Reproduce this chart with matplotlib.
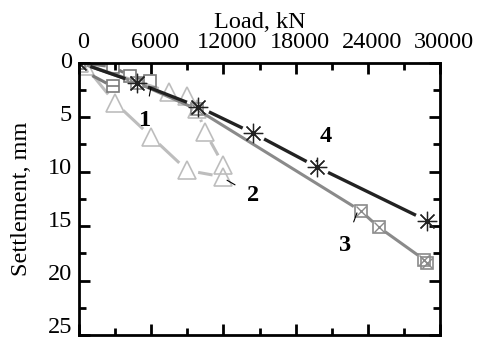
import matplotlib
matplotlib.use("Agg")
import matplotlib.pyplot as plt
import numpy as np
from matplotlib.transforms import ScaledTranslation

plt.rcParams['font.family'] = ['Liberation Serif', 'DejaVu Serif']

# Series data (Load kN, Settlement mm)
s1_x = [0, 2800, 4200, 5900]
s1_y = [0, 0.4, 1.2, 1.7]
s1u_x = [600, 2800]
s1u_y = [0.9, 2.2]

s2a_x = [0, 500, 3000, 6000, 9000, 12000]
s2a_y = [0, 0.3, 3.7, 6.8, 9.9, 10.5]
s2b_x = [0, 7500, 9000, 9800, 10500, 12000]
s2b_y = [0, 2.7, 3.1, 4.3, 6.4, 9.4]

s3_x = [0, 4800, 9800, 23400, 24900, 28700, 28900]
s3_y = [0, 1.85, 4.3, 13.6, 15.1, 18.1, 18.4]

s4_x = [0, 4800, 9900, 14500, 19800, 28900]
s4_y = [0, 1.85, 4.05, 6.5, 9.6, 14.5]

x_ticks = [0, 6000, 12000, 18000, 24000, 30000]
y_ticks = [0, 5, 10, 15, 20, 25]

fig = plt.figure(figsize=(4.79, 3.37), dpi=100)
ax = fig.add_axes([79/479, 2/337, 361/479, 272.5/337])
ax.set_xlim(0, 30000)
ax.set_ylim(25, 0)

c1 = '#7a7a7a'
c2 = '#bdbdbd'
c3 = '#8a8a8a'
c4 = '#222222'


def gapped(xs, ys, gap, **kw):
    """Draw segments between consecutive points, leaving a gap (pixels) at each marker."""
    pts = ax.transData.transform(np.column_stack([xs, ys]))
    inv = ax.transData.inverted()
    for (p, q) in zip(pts[:-1], pts[1:]):
        d = q - p
        L = np.hypot(*d)
        if L <= 2 * gap:
            continue
        u = d / L
        a = inv.transform(p + u * gap)
        b = inv.transform(q - u * gap)
        ax.plot([a[0], b[0]], [a[1], b[1]], solid_capstyle='butt', **kw)


# series 2 (light gray triangles)
for xs, ys in ((s2a_x, s2a_y), (s2b_x, s2b_y)):
    gapped(xs, ys, 11, color=c2, lw=2.2)
    ax.plot(xs, ys, ls='none', marker='^', ms=13, mfc='none', mec=c2, mew=1.2)

# series 1 (gray squares)
gapped(s1_x, s1_y, 7, color=c1, lw=2.2)
ax.plot(s1_x, s1_y, ls='none', marker='s', ms=9, mfc='none', mec=c1, mew=1.2)
gapped(s1u_x, s1u_y, 7, color=c1, lw=2.2)
ax.plot(s1u_x[1:], s1u_y[1:], ls='none', marker='s', ms=9, mfc='none', mec=c1, mew=1.2)
ax.plot(s1u_x[1:], s1u_y[1:], ls='none', marker='_', ms=9, mec=c1, mew=1.2)

# series 3 (gray squares with X)
gapped(s3_x, s3_y, 8, color=c3, lw=2.2)
ax.plot(s3_x, s3_y, ls='none', marker='s', ms=9, mfc='none', mec=c3, mew=1.2)
ax.plot(s3_x, s3_y, ls='none', marker='x', ms=7, mec=c3, mew=1.0)

# series 4 (dark asterisks)
gapped(s4_x, s4_y, 12, color=c4, lw=2.4)
ax.plot(s4_x, s4_y, ls='none', marker=(8, 2, 0), ms=14, mec=c4, mew=0.9)

ax.xaxis.tick_top()
ax.xaxis.set_label_position('top')
ax.set_xticks(x_ticks)
ax.set_xticks([3000, 9000, 15000, 21000, 27000], minor=True)
ax.set_yticks(y_ticks)
ax.set_yticks([2.5, 7.5, 12.5, 17.5, 22.5], minor=True)
ax.tick_params(which='both', direction='in', top=True, bottom=True,
               left=True, right=True, labeltop=True, labelbottom=False,
               labelsize=17.5, width=2)
ax.tick_params(axis='x', pad=7)
ax.tick_params(axis='y', pad=5)
ax.tick_params(which='major', length=8)
ax.tick_params(which='minor', length=5)
for sp in ax.spines.values():
    sp.set_linewidth(2)

for v, lbl in zip(y_ticks, ax.get_yticklabels()):
    dy = (3 + 7 * v / 25) / 100
    lbl.set_transform(lbl.get_transform() + ScaledTranslation(0, dy, fig.dpi_scale_trans))
for lbl in ax.get_xticklabels():
    lbl.set_transform(lbl.get_transform() + ScaledTranslation(0.04, 0, fig.dpi_scale_trans))

ax.set_xlabel('Load, kN', fontsize=17.5, labelpad=3)
ax.set_ylabel('Settlement, mm', fontsize=17.5)
ax.yaxis.set_label_coords(-0.13, 0.5)


def lab(t, xy, xytext):
    ax.annotate(t, xy=xy, xytext=xytext, fontsize=17.5, fontweight='bold',
                ha='center', va='center',
                arrowprops=dict(arrowstyle='-', color='black', lw=0.8,
                                shrinkA=8, shrinkB=0))


lab('1', (5980, 2.3), (5450, 5.3))
lab('2', (12300, 10.8), (14500, 12.2))
lab('3', (23100, 13.8), (22100, 16.8))
lab('4', (19700, 9.1), (20500, 6.8))

fig.savefig('out.png', dpi=100)
